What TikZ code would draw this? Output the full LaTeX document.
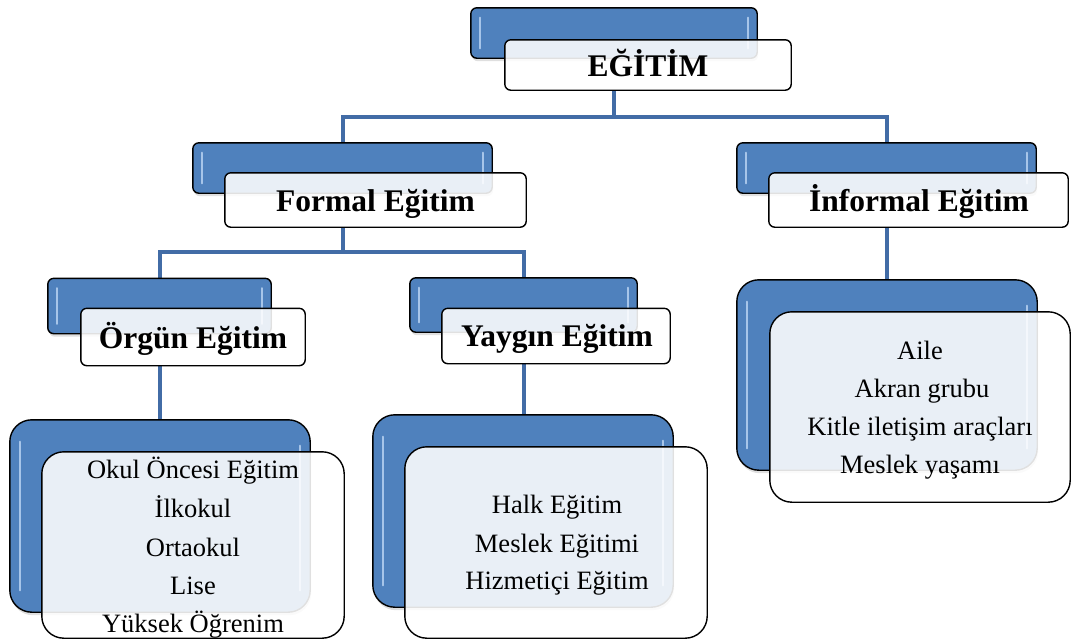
\documentclass[tikz,border=0pt]{standalone}
\usepackage{fontspec}
\setmainfont{Liberation Serif}
\usetikzlibrary{shadows}
\definecolor{boxblue}{RGB}{79,129,189}
\definecolor{lineblue}{RGB}{66,108,166}
\definecolor{hlblue}{RGB}{190,215,245}
\tikzset{
  bluebox/.style={draw=black, line width=1.4pt, fill=boxblue, rounded corners=#1,
    drop shadow={opacity=0.25, shadow xshift=1pt, shadow yshift=-3pt}},
  whitebox/.style={draw=black, line width=1.4pt, fill=white, fill opacity=0.88, rounded corners=#1},
  conn/.style={draw=lineblue, line width=4pt},
  hl/.style={draw=hlblue, line width=2.5pt, line cap=round, opacity=0.8},
  head/.style={font=\fontsize{31.5}{38}\selectfont\bfseries, anchor=base, inner sep=0pt},
  item/.style={font=\fontsize{26.5}{38}\selectfont, anchor=base, inner sep=0pt},
}
\begin{document}
\begin{tikzpicture}[x=1pt, y=-1pt]
\useasboundingbox (0,0) rectangle (1073,640);

% ---- node boxes (positions) ----
\path
 (614,33)     coordinate (eb0)
 (342.5,168)  coordinate (fb0)
 (886.5,168)  coordinate (ib0)
 (159.5,306)  coordinate (ob0)
 (523.5,305)  coordinate (yb0);

% connectors drawn first (behind boxes)
\node[minimum width=286pt, minimum height=50pt, inner sep=0pt] (eb) at (eb0) {};
\node[minimum width=286pt, minimum height=50pt, inner sep=0pt] (ew) at (648,65) {};
\node[minimum width=299pt, minimum height=50pt, inner sep=0pt] (fb) at (fb0) {};
\node[minimum width=301pt, minimum height=54pt, inner sep=0pt] (fw) at (375.5,200) {};
\node[minimum width=299pt, minimum height=50pt, inner sep=0pt] (ib) at (ib0) {};
\node[minimum width=299pt, minimum height=54pt, inner sep=0pt] (iw) at (918.5,200) {};
\node[minimum width=223pt, minimum height=55pt, inner sep=0pt] (ob) at (ob0) {};
\node[minimum width=224pt, minimum height=57pt, inner sep=0pt] (ow) at (193,337) {};
\node[minimum width=227pt, minimum height=54pt, inner sep=0pt] (yb) at (yb0) {};
\node[minimum width=228pt, minimum height=55pt, inner sep=0pt] (yw) at (556,336) {};
\node[minimum width=300pt, minimum height=192pt, inner sep=0pt] (olb) at (160,516) {};
\node[minimum width=302pt, minimum height=186pt, inner sep=0pt] (olw) at (193,545) {};
\node[minimum width=300pt, minimum height=192pt, inner sep=0pt] (ylb) at (523,511) {};
\node[minimum width=302pt, minimum height=191pt, inner sep=0pt] (ylw) at (556,542.5) {};
\node[minimum width=300pt, minimum height=190pt, inner sep=0pt] (ilb) at (887,375) {};
\node[minimum width=300pt, minimum height=190pt, inner sep=0pt] (ilw) at (920,407) {};

\coordinate (j1) at (614,117);
\coordinate (j2) at (342.5,252);
\draw[conn] (eb.center |- ew.south) -- (j1);
\draw[conn] (j1) -| (fb.north);
\draw[conn] (j1) -| (ib.north);
\draw[conn] (fb.center |- fw.south) -- (j2);
\draw[conn] (j2) -| (ob.north);
\draw[conn] (j2) -| (yb.north);
\draw[conn] (ob.center |- ow.south) -- (ob.center |- olb.north);
\draw[conn] (yb.center |- yw.south) -- (yb.center |- ylb.north);
\draw[conn] (ib.center |- iw.south) -- (ib.center |- ilb.north);

% ---- shapes drawn over connectors ----
% small header boxes
\foreach \b/\w in {eb/ew, fb/fw, ib/iw, ob/ow, yb/yw}{
  \path[bluebox=6pt] (\b.north west) rectangle (\b.south east);
  \draw[hl] ([xshift=9pt,yshift=-10pt]\b.north west) -- ([xshift=9pt,yshift=10pt]\b.south west);
  \draw[hl] ([xshift=-9pt,yshift=-10pt]\b.north east) -- ([xshift=-9pt,yshift=10pt]\b.south east);
  \path[whitebox=6pt] (\w.north west) rectangle (\w.south east);
}
% large list boxes
\foreach \b/\w in {olb/olw, ylb/ylw, ilb/ilw}{
  \path[bluebox=22pt] (\b.north west) rectangle (\b.south east);
  \draw[hl] ([xshift=10pt,yshift=-22pt]\b.north west) -- ([xshift=10pt,yshift=22pt]\b.south west);
  \draw[hl] ([xshift=-10pt,yshift=-26pt]\b.north east) -- ([xshift=-10pt,yshift=22pt]\b.south east);
  \path[whitebox=22pt] (\w.north west) rectangle (\w.south east);
}

% ---- texts ----
\node[head] (te) at (648,76) {EĞİTİM};
\node[head] (tf) at (375.5,211) {Formal Eğitim};
\node[head] (ti) at (919,211) {İnformal Eğitim};
\node[head] (to) at (193,348) {Örgün Eğitim};
\node[head] (ty) at (557,346) {Yaygın Eğitim};

\node[item] (o1) at (193,478) {Okul Öncesi Eğitim};
\node[item] (o2) at (193,517) {İlkokul};
\node[item] (o3) at (193,556) {Ortaokul};
\node[item] (o4) at (193,594) {Lise};
\node[item] (o5) at (193,632) {Yüksek Öğrenim};

\node[item] (y1) at (557,513) {Halk Eğitim};
\node[item] (y2) at (557,552) {Meslek Eğitimi};
\node[item] (y3) at (557,589) {Hizmetiçi Eğitim};

\node[item] (i1) at (920,359) {Aile};
\node[item] (i2) at (922,397) {Akran grubu};
\node[item] (i3) at (920,435) {Kitle iletişim araçları};
\node[item] (i4) at (920,473) {Meslek yaşamı};
\end{tikzpicture}
\end{document}
